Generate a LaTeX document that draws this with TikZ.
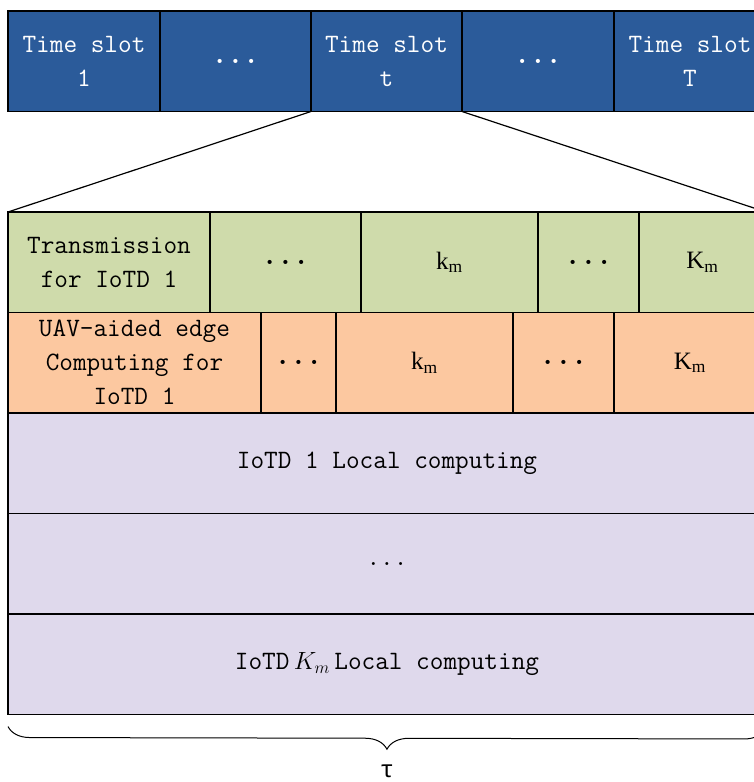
\documentclass[tikz,border=0pt]{standalone}
\usepackage{fontspec}
\newfontfamily\seriffont{Liberation Serif}
\newfontfamily\taufont{Liberation Mono}
\usetikzlibrary{decorations.pathreplacing}
\definecolor{slotblue}{RGB}{43,91,154}
\definecolor{transgreen}{RGB}{207,219,171}
\definecolor{offorange}{RGB}{252,200,160}
\definecolor{locallilac}{RGB}{223,217,236}
\tikzset{
  cell/.style={draw=black, line width=1.2pt, rectangle, inner sep=0pt, outer sep=0pt,
    anchor=north west, minimum height=100.5pt, align=center,
    font=\ttfamily\fontsize{26.5}{34}\selectfont},
  slot/.style={cell, fill=slotblue, text=white},
  trans/.style={cell, fill=transgreen},
  offload/.style={cell, fill=offorange},
  local/.style={cell, fill=locallilac, minimum width=758pt},
}
\newcommand{\km}{{\seriffont\fontsize{25}{30}\selectfont k\textsubscript{m}}}
\newcommand{\Km}{{\seriffont\fontsize{25}{30}\selectfont K\textsubscript{m}}}
\newcommand{\bdots}{{\fontsize{30}{30}\selectfont\bfseries ...}}
\begin{document}
\begin{tikzpicture}[x=1pt,y=-1pt]
\useasboundingbox (0,0) rectangle (754,782);
\clip (0,0) rectangle (754,782);
% time slots
\node[slot, minimum width=152pt] (slot1) at (8,11) {Time slot\\1};
\node[slot, minimum width=151pt] (slot2) at (160,11) {\bdots};
\node[slot, minimum width=151pt] (slot3) at (311,11) {Time slot\\t};
\node[slot, minimum width=152pt] (slot4) at (462,11) {\bdots};
\node[slot, minimum width=152pt] (slot5) at (614,11) {Time slot\\T};
% transmission
\node[trans, minimum width=202pt] (trans1) at (8,212) {Transmission\\for IoTD 1};
\node[trans, minimum width=151pt] (trans2) at (210,212) {\bdots};
\node[trans, minimum width=177pt] (trans3) at (361,212) {\km};
\node[trans, minimum width=101pt] (trans4) at (538,212) {\bdots};
\node[trans, minimum width=127pt] (trans5) at (639,212) {\Km};
% edge computing
\node[offload, minimum width=253pt] (off1) at (8,312.5) {UAV-aided edge\\Computing for\\IoTD 1};
\node[offload, minimum width=75pt] (off2) at (261,312.5) {\bdots};
\node[offload, minimum width=177pt] (off3) at (336,312.5) {\km};
\node[offload, minimum width=101pt] (off4) at (513,312.5) {\bdots};
\node[offload, minimum width=152pt] (off5) at (614,312.5) {\Km};
% local computing
\node[local] (loc1) at (8,413) {IoTD 1 Local computing};
\node[local] (loc2) at (8,513.5) {...};
\node[local] (loc3) at (8,614) {IoTD\,$K_m$\,Local computing};
% zoom lines
\draw[line width=1.2pt] (slot3.south west) -- (trans1.north west);
\draw[line width=1.2pt] (slot4.south west) -- (trans5.north east);
% brace
\draw[line width=1pt, decorate, decoration={brace, mirror, amplitude=22pt}] (loc3.south west) ++(0,12) -- (766,728) coordinate (braceend);
\node[font=\taufont\fontsize{24}{34}\selectfont] (tau) at (387,771) {τ};
\end{tikzpicture}
\end{document}
